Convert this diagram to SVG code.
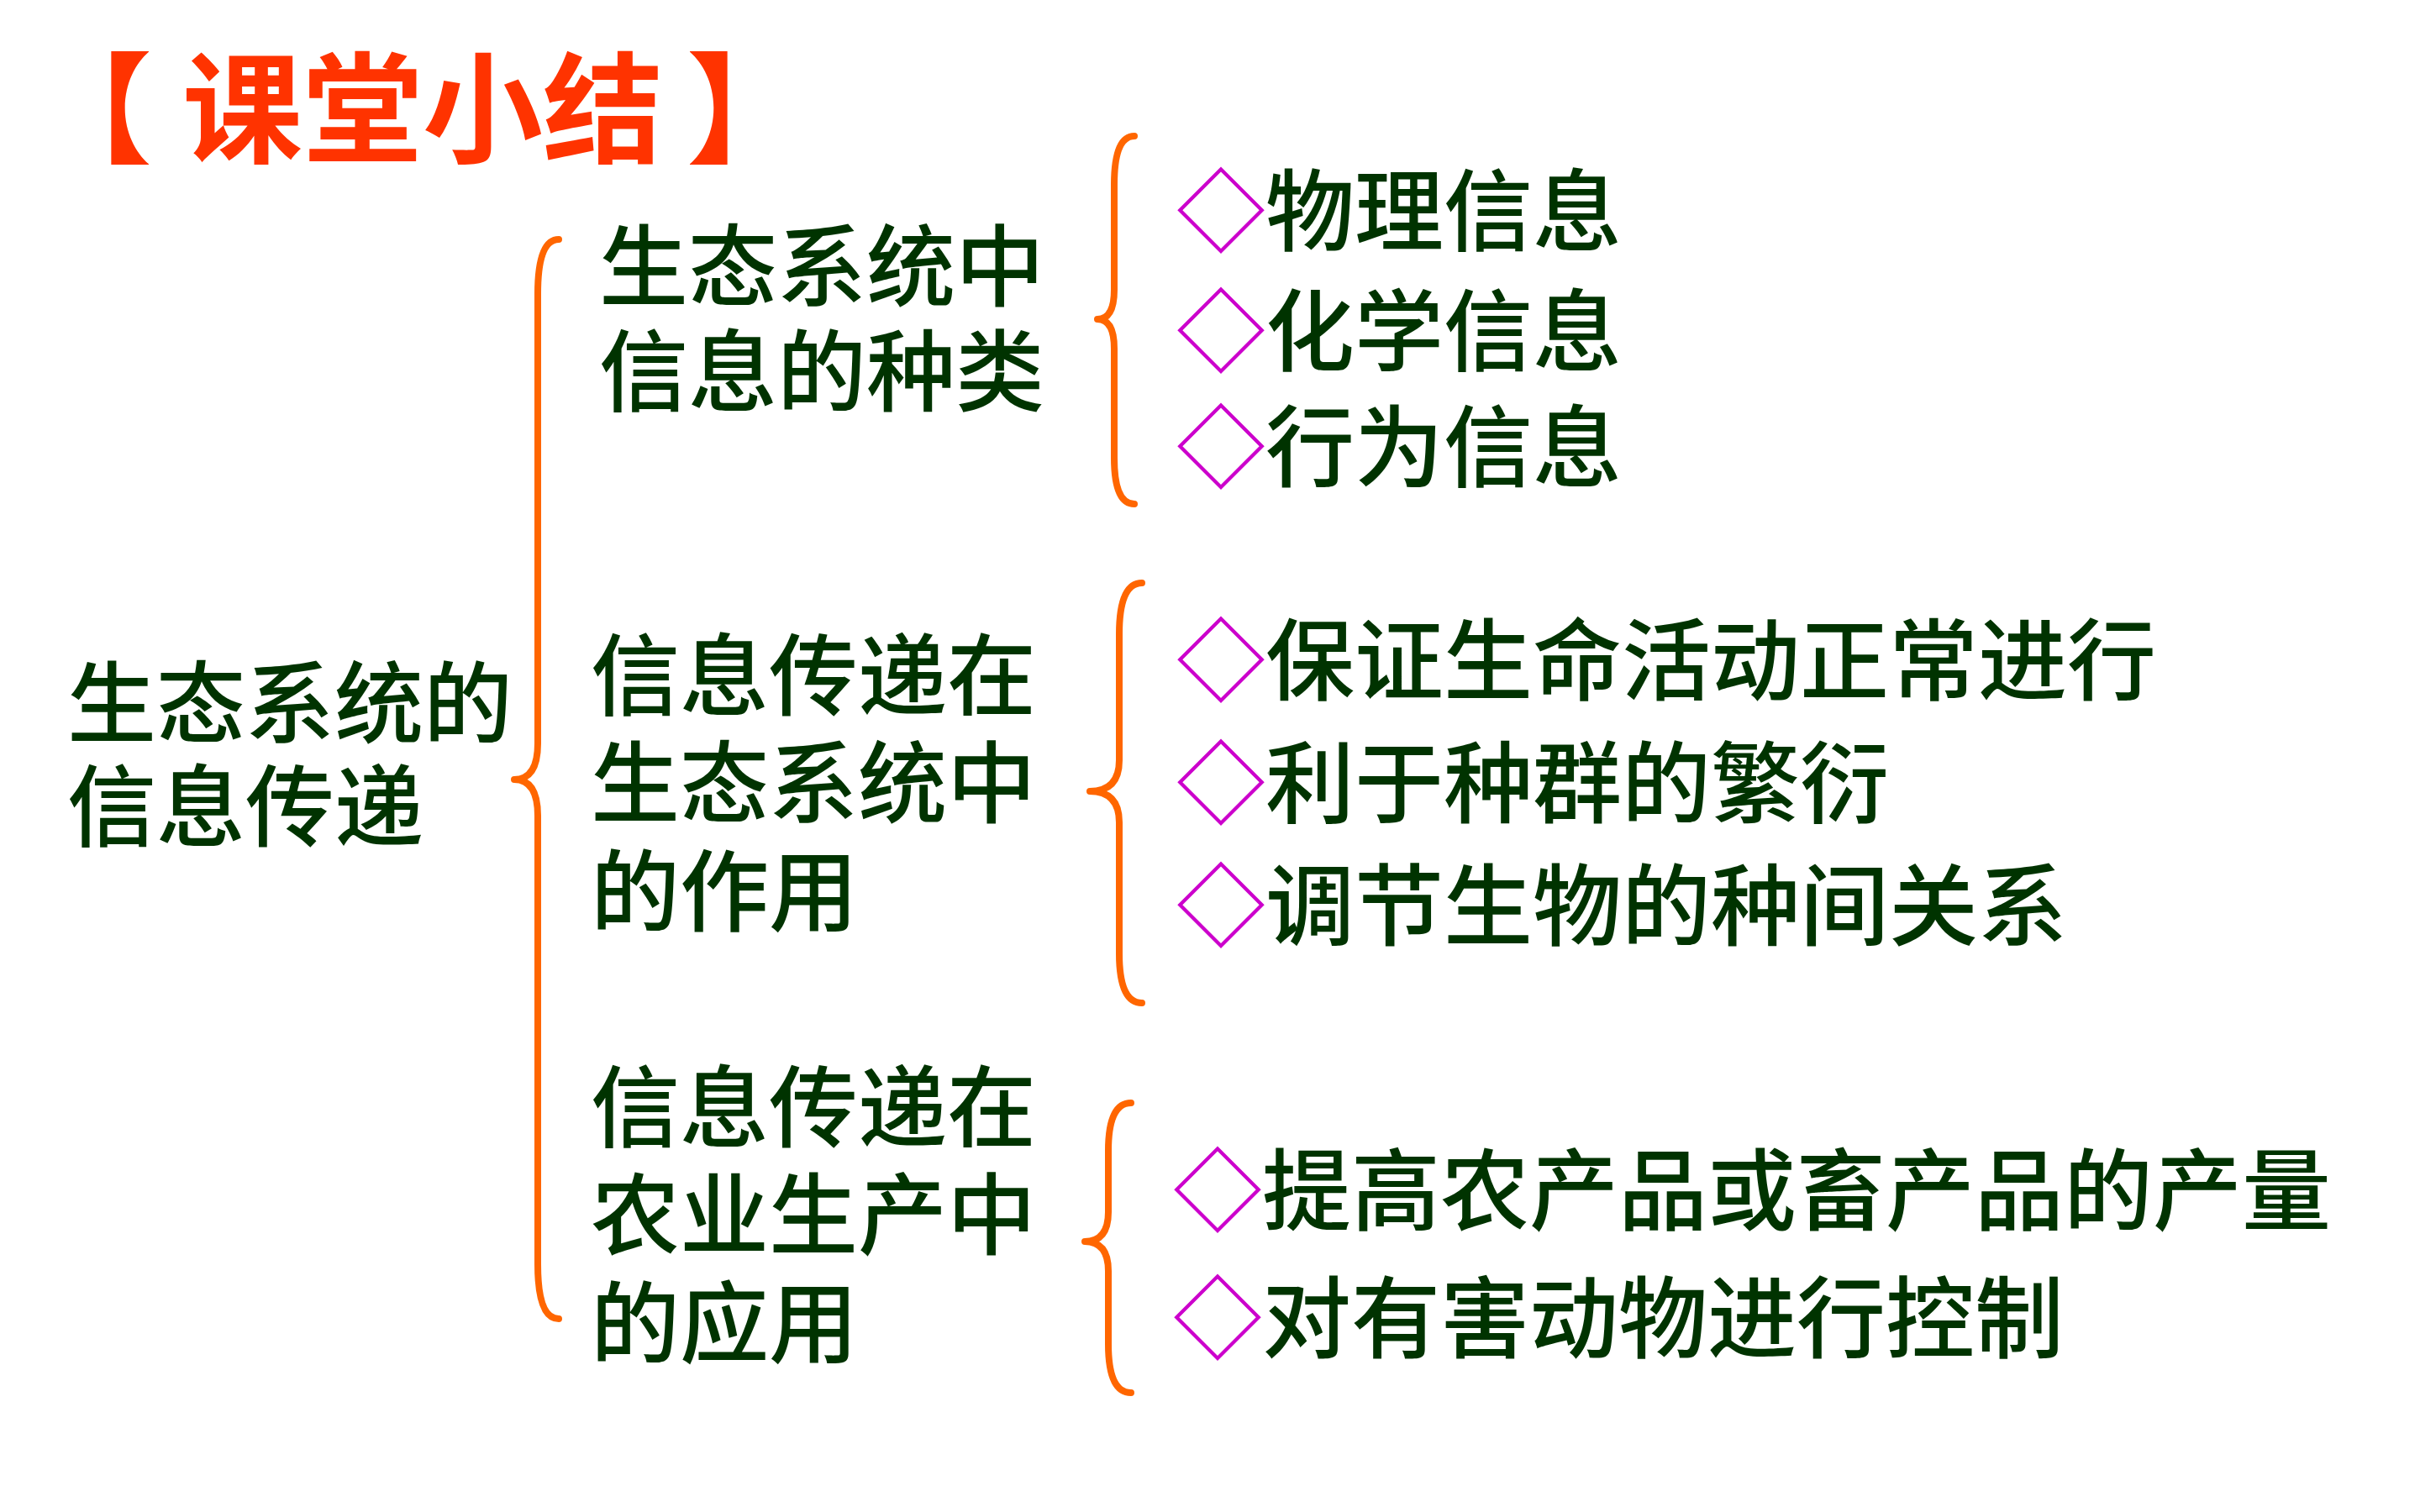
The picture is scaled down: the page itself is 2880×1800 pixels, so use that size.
<svg xmlns="http://www.w3.org/2000/svg" width="2880" height="1800" viewBox="0 0 2880 1800">
<style>
.t{font-family:"Noto Sans CJK SC","Noto Sans",sans-serif;font-size:106px;fill:#003300;font-weight:500}
.title{font-family:"Noto Sans CJK SC","Noto Sans",sans-serif;font-size:143px;fill:#FF3300;font-weight:700}
.d{fill:#CC00CC}
.brace{fill:none;stroke:#FF6600;stroke-width:8;stroke-linecap:round;stroke-linejoin:round}
</style>
<rect width="2880" height="1800" fill="#FFFFFF"/>
<g id="title"><text class="title" x="38" y="183">【<tspan dx="36">课堂小结</tspan><tspan dx="28">】</tspan></text></g>
<g id="root"><text class="t" x="80" y="876">生态系统的</text><text class="t" x="80" y="999">信息传递</text></g>
<g id="kind"><text class="t" x="713" y="356">生态系统中</text><text class="t" x="713" y="481">信息的种类</text></g>
<g id="role"><text class="t" x="703" y="843">信息传递在</text><text class="t" x="703" y="971">生态系统中</text><text class="t" x="703" y="1100">的作用</text></g>
<g id="app"><text class="t" x="703" y="1357">信息传递在</text><text class="t" x="703" y="1485">农业生产中</text><text class="t" x="703" y="1614">的应用</text></g>
<g id="k1"><text class="t" x="1400" y="290"><tspan class="d">◇</tspan>物理信息</text></g>
<g id="k2"><text class="t" x="1400" y="433"><tspan class="d">◇</tspan>化学信息</text></g>
<g id="k3"><text class="t" x="1400" y="571"><tspan class="d">◇</tspan>行为信息</text></g>
<g id="r1"><text class="t" x="1400" y="825"><tspan class="d">◇</tspan>保证生命活动正常进行</text></g>
<g id="r2"><text class="t" x="1400" y="971"><tspan class="d">◇</tspan>利于种群的繁衍</text></g>
<g id="r3"><text class="t" x="1400" y="1117"><tspan class="d">◇</tspan>调节生物的种间关系</text></g>
<g id="a1"><text class="t" x="1396" y="1456"><tspan class="d">◇</tspan>提高农产品或畜产品的产量</text></g>
<g id="a2"><text class="t" x="1396" y="1608"><tspan class="d">◇</tspan>对有害动物进行控制</text></g>
<g id="connectors">
<path class="brace" d="M665 285 Q640 285 640 350 L640 885 Q640 928 612 928 Q640 928 640 971 L640 1505 Q640 1570 665 1570"/>
<path class="brace" d="M1350 162 Q1326 162 1326 220 L1326 345 Q1326 380 1306 380 Q1326 380 1326 415 L1326 545 Q1326 600 1350 600"/>
<path class="brace" d="M1359 694 Q1332 694 1332 755 L1332 905 Q1332 942 1297 942 Q1332 942 1332 979 L1332 1135 Q1332 1194 1359 1194"/>
<path class="brace" d="M1346 1313 Q1319 1313 1319 1370 L1319 1443 Q1319 1478 1291 1478 Q1319 1478 1319 1513 L1319 1600 Q1319 1658 1346 1658"/>
</g>
</svg>
